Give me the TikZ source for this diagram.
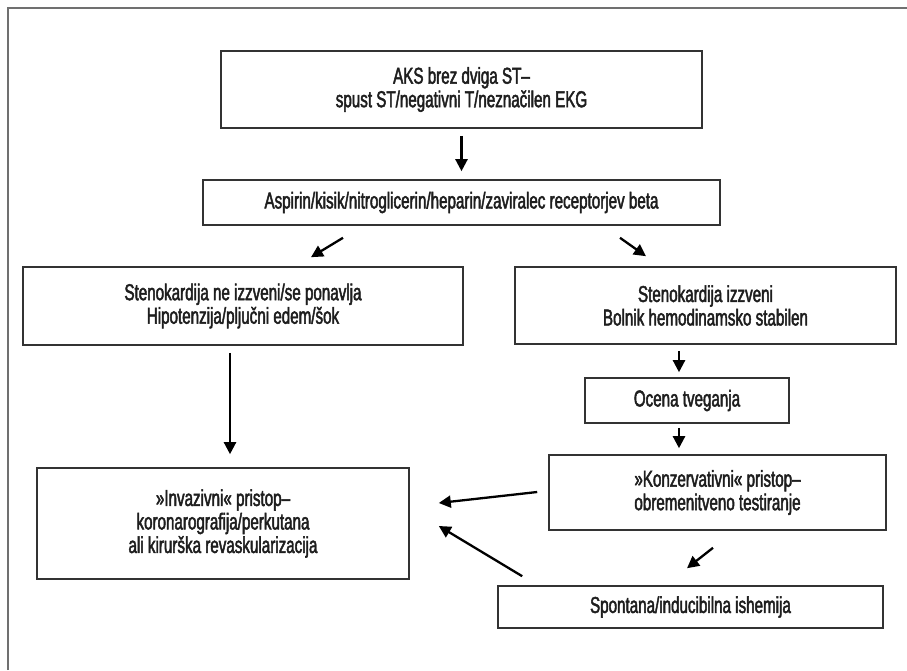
\documentclass[tikz,border=0pt]{standalone}
\usepackage{fontspec}
\setmainfont{Liberation Sans}[FakeStretch=0.66,FakeBold=2]
\usetikzlibrary{arrows.meta,calc}
\definecolor{frameg}{HTML}{707070}
\definecolor{boxg}{HTML}{333333}
\definecolor{txt}{HTML}{1E1E1E}
\tikzset{
  box/.style={draw=boxg, line width=1.6pt, fill=white, inner sep=0pt, align=center,
    text=txt, font=\fontsize{23}{23.5}\selectfont},
  arr/.style={draw=black, line width=2.3pt, -{Triangle[length=12pt,width=12pt]}},
  framel/.style={draw=frameg, line width=2pt}
}
\begin{document}
\begin{tikzpicture}[x=1pt,y=-1pt]
\useasboundingbox (0,0) rectangle (907,670);
\coordinate (fa) at (8,670);
\coordinate (fb) at (8,8);
\coordinate (fc) at (907,8);
\draw[framel] (fa) -- (fb) -- (fc);

\node[box, minimum width=481pt, minimum height=77pt] (b1) at (461.5,89.5)
  {AKS brez dviga ST–\\spust ST/negativni T/neznačilen EKG};
\node[box, minimum width=517pt, minimum height=45pt] (b2) at (461.5,202.5)
  {Aspirin/kisik/nitroglicerin/heparin/zaviralec receptorjev beta};
\node[box, minimum width=440pt, minimum height=78pt] (b3) at (243,306)
  {Stenokardija ne izzveni/se ponavlja\\Hipotenzija/pljučni edem/šok};
\node[box, minimum width=381pt, minimum height=77pt] (b4) at (705.5,305.5)
  {Stenokardija izzveni\\Bolnik hemodinamsko stabilen};
\node[box, minimum width=204pt, minimum height=45pt] (b5) at (687,400.5)
  {Ocena tveganja};
\node[box, minimum width=337pt, minimum height=75pt] (b6) at (717.5,492.5)
  {»Konzervativni« pristop–\\obremenitveno testiranje};
\node[box, minimum width=372pt, minimum height=111pt] (b7) at (223,523.5)
  {»Invazivni« pristop–\\koronarografija/perkutana\\ali kirurška revaskularizacija};
\node[box, minimum width=385pt, minimum height=42pt] (b8) at (690.5,607)
  {Spontana/inducibilna ishemija};

\draw[arr] ($(b1.south)+(0,7)$) -- ($(b2.north)+(0,-8)$);
\draw[arr] ($(b2.south)+(-118.5,12)$) -- ($(b3.north)+(68,-9)$);
\draw[arr] ($(b2.south)+(158.5,12)$) -- ($(b4.north)+(-59.5,-10)$);
\draw[arr] ($(b4.south)+(-26.5,6)$) -- ($(b5.north)+(-8,-5)$);
\draw[arr] ($(b5.south)+(-8,4)$) -- ($(b6.north)+(-38.5,-6)$);
\draw[arr] ($(b3.south)+(-13,7)$) -- ($(b7.north)+(7,-13)$);
\draw[arr] ($(b6.west)+(-11,-0.5)$) -- ($(b7.east)+(29,-20.5)$);
\draw[arr] ($(b8.north west)+(25,-9)$) -- ($(b7.east)+(29,2.5)$);
\draw[arr] ($(b6.south)+(-4.5,17)$) -- ($(b8.north)+(-3.5,-17)$);
\end{tikzpicture}
\end{document}
